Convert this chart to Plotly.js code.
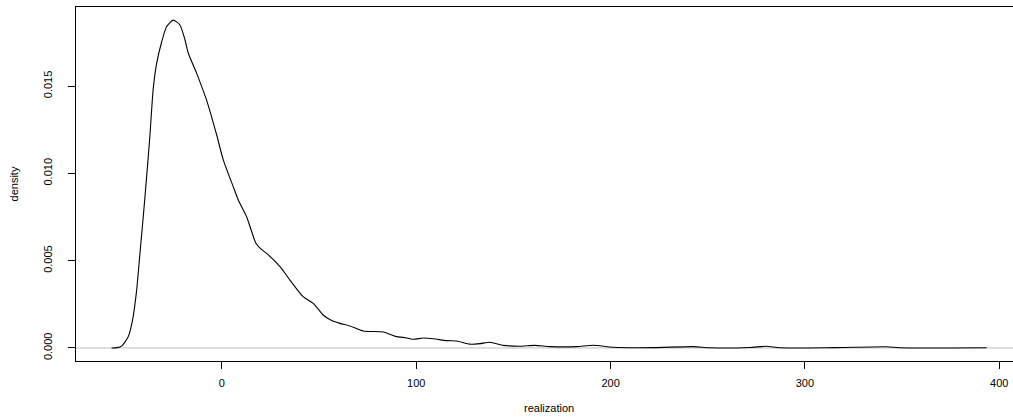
<!DOCTYPE html>
<html>
<head>
<meta charset="utf-8">
<script src="https://cdn.plot.ly/plotly-3.0.1.min.js"></script>
<style>
html,body{margin:0;padding:0;overflow:hidden;background:#fff;}
#chart{width:1013px;height:417px;}
</style>
</head>
<body>
<div id="chart"></div>
<script>
// Density estimate
var realization = [-56.8, -54, -51.6, -48.2, -46, -43.9, -42.2, -40.5, -38.9, -37.1, -35.4, -33.6, -31, -28.5, -25.1, -21.6, -19.0, -17.3, -13, -10.4, -7.9, -2.7, 0.7, 5.8, 8.4, 12.7, 17.5, 20, 23, 29.9, 35, 41.8, 47, 52.1, 56, 60.7, 65.9, 72.7, 83, 89.9, 93.3, 98.5, 103.6, 108.8, 115.6, 120.8, 127.6, 132.8, 137.9, 144.8, 153.4, 161.1, 168.8, 182.5, 191.1, 201.4, 222, 242.6, 251.2, 271.7, 280.3, 287.2, 314.6, 342.1, 349, 393.5];
var density = [0, 0.00002, 0.00011, 0.00065, 0.0016, 0.0033, 0.0054, 0.0075, 0.0096, 0.0121, 0.0148, 0.0163, 0.01754, 0.0184, 0.01878, 0.0185, 0.01764, 0.01688, 0.01573, 0.01497, 0.0142, 0.0122, 0.01077, 0.00924, 0.00848, 0.00752, 0.006, 0.00568, 0.00542, 0.00466, 0.00389, 0.00294, 0.00256, 0.00189, 0.0016, 0.00141, 0.00126, 0.00097, 0.00092, 0.00065, 0.00061, 0.0005, 0.00057, 0.00053, 0.00042, 0.0004, 0.00022, 0.00025, 0.00033, 0.00015, 0.0001, 0.00015, 0.00008, 0.00008, 0.00016, 0.00004, 0.00002, 0.00008, 0.00001, 0.00003, 0.0001, 0.00001, 0.00002, 0.00007, 0.00001, 0.00001];
var xTicks = [0, 100, 200, 300, 400];
var yTicks = [0, 0.005, 0.010, 0.015];
var yTickText = ["0.000", "0.005", "0.010", "0.015"];
var xTitle = 'realization';
var yTitle = 'density';

var font = {family: '"Liberation Sans", Arial, Helvetica, sans-serif', size: 11, color: '#000'};

var trace = {
  x: realization, y: density, type: 'scatter', mode: 'lines',
  line: {color: '#000', width: 1.1, shape: 'spline', smoothing: 0.6},
  hoverinfo: 'skip', showlegend: false
};

var layout = {
  width: 1013, height: 417,
  margin: {l: 76, r: 0, t: 7, b: 56},
  paper_bgcolor: '#fff', plot_bgcolor: '#fff',
  font: font,
  showlegend: false,
  xaxis: {
    range: [-75.1, 407.1], tickvals: xTicks, ticktext: xTicks.map(String),
    color: '#000',
    showgrid: false, zeroline: false, showline: true, linecolor: '#000', linewidth: 1, mirror: true,
    ticks: 'outside', ticklen: 7, tickcolor: '#000', tickwidth: 1,
    tickfont: font, ticklabelstandoff: 5
  },
  yaxis: {
    range: [-0.000745, 0.01953], tickvals: yTicks, ticktext: yTickText,
    color: '#000',
    showgrid: false, zeroline: false, showline: true, linecolor: '#000', linewidth: 1, mirror: false,
    ticks: 'outside', ticklen: 7, tickcolor: '#000', tickwidth: 1,
    tickangle: -90, tickfont: font, ticklabelstandoff: 12,
    title: {text: yTitle, font: font, standoff: 20}
  },
  annotations: [{
    text: xTitle, xref: 'paper', yref: 'paper', x: 0.5048, y: -0.1328,
    xanchor: 'center', yanchor: 'middle', showarrow: false, font: font
  }],
  shapes: [{
    type: 'line', xref: 'paper', yref: 'y', x0: 0, x1: 1, y0: 0, y1: 0,
    line: {color: '#bebebe', width: 1}, layer: 'below'
  }]
};

Plotly.newPlot('chart', [trace], layout, {displayModeBar: false, staticPlot: true});
</script>
</body>
</html>
